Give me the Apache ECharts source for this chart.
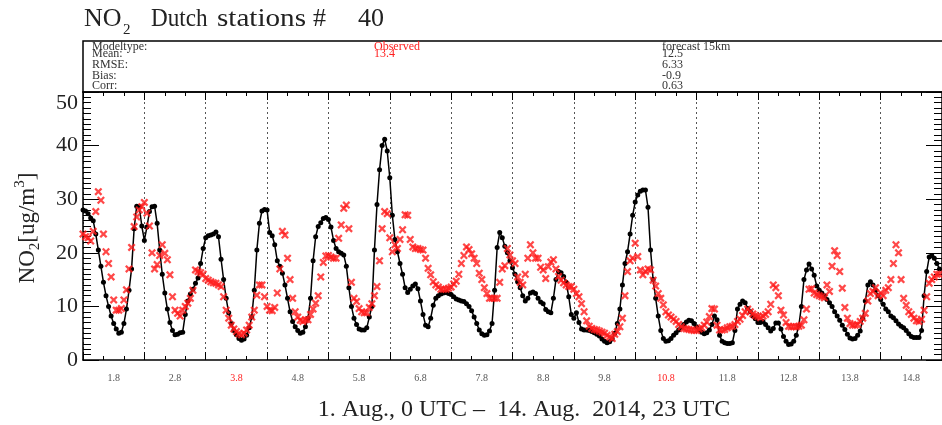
<!DOCTYPE html>
<html>
<head>
<meta charset="utf-8">
<script src="https://cdn.jsdelivr.net/npm/echarts@6/dist/echarts.min.js"></script>
<style>
  html, body { margin: 0; padding: 0; background: #fff; }
  #main { width: 942px; height: 425px; }
</style>
</head>
<body>
<div id="main"></div>
<script>
var SERIF = '"Liberation Serif", "Times New Roman", serif';

// day labels (Sundays in red)
var dayLabels = ["1.8", "2.8", "3.8", "4.8", "5.8", "6.8", "7.8", "8.8", "9.8", "10.8", "11.8", "12.8", "13.8", "14.8"];
var sundays = ["3.8", "10.8"];

// statistics box
var statNames = ["Modeltype:", "Mean:", "RMSE:", "Bias:", "Corr:"];
var observedStats = ["Observed", "13.4"];
var forecastStats = ["forecast 15km", "12.5", "6.33", "-0.9", "0.63"];

// hourly NO2 [ug/m3], 1. Aug 0 UTC .. 14. Aug 23 UTC
var forecast = [
  28.0, 27.8, 27.3, 26.5, 26.0, 23.5, 20.5, 17.5, 14.5, 12.0, 10.0, 8.2, 6.8, 5.8, 5.0, 5.2, 6.8, 9.5, 13.0, 17.0, 24.5, 28.7, 28.6, 25.0,
  22.3, 24.8, 27.7, 28.6, 28.7, 25.5, 20.5, 16.0, 12.5, 9.5, 7.0, 5.5, 4.7, 4.8, 5.1, 5.2, 8.5, 11.0, 12.3, 13.2, 14.3, 15.3, 18.0, 20.8,
  22.8, 23.2, 23.3, 23.5, 23.9, 23.0, 18.8, 15.0, 11.5, 8.8, 6.8, 5.5, 4.7, 4.0, 3.7, 3.9, 4.6, 6.0, 8.0, 13.0, 20.5, 25.5, 27.8, 28.1,
  28.0, 23.8, 23.2, 21.5, 18.5, 17.5, 16.2, 14.0, 11.5, 9.0, 7.2, 6.2, 5.5, 5.0, 5.2, 6.2, 7.8, 11.5, 18.5, 23.0, 24.9, 25.6, 26.4, 26.6,
  26.2, 24.8, 22.3, 20.8, 20.2, 19.9, 19.6, 17.5, 13.5, 10.0, 7.8, 6.6, 5.8, 5.6, 5.6, 6.0, 8.0, 10.0, 20.5, 29.0, 35.5, 40.0, 41.2, 39.0,
  34.0, 27.0, 22.5, 20.2, 18.0, 16.0, 13.5, 12.6, 13.2, 13.8, 14.2, 13.3, 11.0, 8.5, 6.5, 6.2, 7.8, 10.2, 11.5, 12.0, 12.3, 12.5, 12.6, 12.4,
  12.2, 11.8, 11.4, 11.2, 11.0, 10.9, 10.5, 10.0, 9.2, 8.0, 6.8, 5.6, 4.9, 4.6, 4.7, 5.4, 6.8, 13.0, 21.0, 23.8, 22.8, 21.2, 20.0, 18.5,
  17.2, 16.0, 14.6, 13.5, 12.0, 11.0, 11.5, 12.5, 12.7, 12.4, 11.5, 10.8, 10.5, 9.4, 9.0, 8.8, 11.5, 15.0, 16.5, 16.3, 15.6, 14.5, 11.8, 8.5,
  7.8, 8.8, 7.0, 5.8, 5.6, 5.6, 5.5, 5.3, 5.1, 4.8, 4.5, 3.9, 3.5, 3.2, 3.4, 3.9, 5.0, 6.8, 9.5, 14.0, 18.0, 20.2, 23.5, 27.0,
  29.5, 30.8, 31.5, 31.7, 31.7, 28.5, 20.5, 15.0, 11.5, 8.2, 5.5, 4.0, 3.5, 3.6, 4.0, 4.6, 5.1, 5.6, 6.1, 6.6, 7.1, 7.4, 7.3, 6.8,
  6.2, 5.6, 5.2, 4.9, 5.1, 5.6, 6.6, 8.2, 7.5, 4.6, 3.5, 3.2, 3.1, 3.1, 3.2, 5.5, 9.5, 10.4, 11.0, 10.7, 9.6, 9.0, 8.2, 7.7,
  7.0, 7.0, 7.2, 6.6, 6.0, 5.4, 5.9, 6.9, 6.9, 5.8, 4.4, 3.5, 2.9, 3.0, 3.5, 4.6, 6.4, 10.0, 15.0, 16.8, 17.9, 17.0, 15.8, 13.8,
  13.0, 12.5, 12.0, 11.3, 10.7, 10.0, 9.0, 8.2, 7.4, 6.5, 5.7, 4.8, 4.1, 3.9, 4.0, 4.6, 5.4, 7.8, 11.0, 14.0, 14.6, 14.0, 13.0, 12.0,
  11.3, 10.4, 9.5, 9.0, 8.2, 7.9, 7.3, 6.7, 6.3, 6.0, 5.5, 4.9, 4.4, 4.2, 4.2, 4.2, 5.5, 12.0, 16.5, 19.2, 19.5, 19.0, 18.0, 17.0
];

var observed = [
  23.5, 23.0, 22.8, 22.2, 24.0, 27.7, 31.4, 29.8, 23.5, 20.2, 18.0, 15.5, 11.2, 9.3, 9.3, 9.6, 11.2, 13.1, 17.0, 21.0, 24.9, 26.7, 28.0, 28.6,
  29.4, 27.4, 25.0, 20.0, 17.0, 17.8, 19.5, 21.5, 19.9, 18.7, 15.9, 11.8, 9.3, 8.7, 8.2, 9.3, 10.0, 10.6, 11.5, 13.0, 16.8, 16.5, 16.3, 16.0,
  15.2, 14.9, 14.6, 14.4, 14.3, 14.0, 13.7, 11.8, 9.3, 7.8, 6.5, 5.8, 5.3, 4.9, 4.7, 5.0, 5.6, 6.5, 8.0, 9.3, 12.1, 14.0, 14.0, 11.8,
  10.0, 9.3, 9.2, 9.8, 12.5, 17.0, 24.0, 23.3, 19.0, 15.0, 11.5, 9.0, 8.0, 7.4, 7.2, 7.5, 7.5, 8.5, 9.5, 10.6, 12.0, 15.5, 18.2, 19.4,
  19.5, 19.2, 19.0, 19.0, 22.7, 25.2, 28.3, 28.9, 24.5, 14.5, 11.5, 10.9, 9.6, 9.0, 8.8, 8.8, 9.8, 10.5, 12.0, 13.7, 18.5, 24.5, 27.7, 27.3,
  22.8, 20.2, 21.5, 20.8, 22.5, 24.3, 27.1, 27.0, 22.5, 21.1, 20.8, 20.8, 20.6, 20.5, 19.0, 17.1, 15.9, 14.6, 14.0, 13.6, 13.2, 13.2, 13.2, 13.4,
  13.6, 14.2, 14.7, 16.0, 18.0, 19.5, 21.1, 20.6, 19.8, 19.0, 18.0, 16.2, 15.0, 13.5, 12.4, 11.5, 11.5, 11.5, 11.5, 14.5, 17.0, 17.6, 20.8, 19.6,
  18.5, 18.0, 15.5, 14.5, 14.0, 16.0, 19.0, 21.5, 20.0, 19.0, 19.0, 17.3, 16.8, 15.2, 17.4, 18.3, 18.7, 17.0, 15.6, 14.9, 14.4, 14.0, 13.7, 13.7,
  13.2, 12.4, 11.8, 10.5, 9.0, 7.3, 6.3, 5.9, 5.7, 5.6, 5.4, 5.2, 5.0, 4.6, 4.3, 4.0, 4.8, 5.3, 6.2, 7.8, 12.0, 16.5, 18.5, 19.0,
  21.8, 19.3, 16.8, 15.9, 16.5, 17.0, 16.8, 14.9, 13.8, 12.4, 11.5, 10.3, 9.0, 8.4, 8.0, 7.6, 7.2, 6.6, 6.2, 5.9, 5.8, 5.7, 5.6, 5.5,
  5.5, 5.8, 6.0, 6.5, 7.1, 8.1, 9.6, 9.5, 6.5, 5.6, 5.6, 5.7, 6.0, 6.2, 6.3, 6.6, 7.2, 7.6, 8.3, 9.0, 9.5, 9.0, 8.6, 8.3,
  8.1, 7.9, 8.2, 8.5, 9.0, 10.4, 14.0, 13.5, 12.0, 9.3, 8.4, 7.0, 6.3, 6.2, 6.2, 6.2, 6.3, 6.5, 7.5, 9.5, 13.2, 13.3, 12.5, 12.2,
  12.0, 11.8, 11.6, 14.0, 12.8, 17.5, 20.4, 19.5, 16.5, 13.4, 9.8, 7.8, 6.8, 6.5, 6.5, 6.6, 7.2, 7.8, 8.7, 11.0, 12.4, 12.8, 13.5, 12.0,
  12.5, 12.0, 13.0, 13.5, 15.0, 18.0, 21.5, 20.0, 15.0, 11.5, 10.2, 9.0, 8.5, 7.8, 7.3, 7.2, 7.6, 9.3, 11.8, 14.3, 15.0, 15.5, 16.0, 16.0
];

var hoursTotal = dayLabels.length * 24;

var myChart = echarts.init(document.getElementById("main"));

var frameLine = { color: "#000", width: 1.5 };
var xCross = "path://M2,0L5,3L8,0L10,2L7,5L10,8L8,10L5,7L2,10L0,8L3,5L0,2Z";

function statText(x, y, txt, color) {
  return {
    type: "text", x: x, y: y,
    style: { text: txt, fontFamily: SERIF, fontSize: 12, fill: color, verticalAlign: "middle" }
  };
}

function titleWord(x, y, txt, size, sx) {
  return {
    type: "text", x: x, y: y, scaleX: sx || 1,
    style: { text: txt, fontFamily: SERIF, fontSize: size, fill: "#222", verticalAlign: "middle" }
  };
}

var graphics = [
  // stats box
  { type: "rect", shape: { x: 83, y: 41, width: 900, height: 51 },
    style: { fill: "none", stroke: "#000", lineWidth: 1.5 } },
  // title
  titleWord(84, 19, "NO", 26),
  titleWord(123, 30, "2", 15),
  titleWord(151, 19, "Dutch", 26, 0.89),
  titleWord(217, 19, "stations", 26, 1.12),
  titleWord(313, 19, "#", 26),
  titleWord(358, 19, "40", 26),
  // y axis name
  { type: "text", x: 28, y: 228, rotation: Math.PI / 2,
    style: {
      text: "{a|NO}{s|2}{a|[ug/m}{p|3}{a|]}",
      align: "center", verticalAlign: "middle", fill: "#222",
      rich: {
        a: { fontFamily: SERIF, fontSize: 23, lineHeight: 30, fill: "#222" },
        s: { fontFamily: SERIF, fontSize: 15, lineHeight: 14, verticalAlign: "bottom", fill: "#222" },
        p: { fontFamily: SERIF, fontSize: 15, lineHeight: 14, verticalAlign: "top", fill: "#222" }
      }
    } },
  // x axis title
  { type: "text", x: 524, y: 410,
    style: { text: "1. Aug., 0 UTC \u2013  14. Aug.  2014, 23 UTC", fontFamily: SERIF, fontSize: 24,
      fill: "#222", align: "center", verticalAlign: "middle" } }
];

var rowY = [47, 54, 65, 76, 86];
statNames.forEach(function (t, i) { graphics.push(statText(92, rowY[i], t, "#333")); });
observedStats.forEach(function (t, i) { graphics.push(statText(374, rowY[i], t, "#ff2020")); });
forecastStats.forEach(function (t, i) { graphics.push(statText(662, rowY[i], t, "#333")); });

function timeAxis(pos, split) {
  return {
    type: "value", position: pos, min: 0, max: hoursTotal, interval: 24,
    axisLine: { show: true, onZero: false, lineStyle: frameLine },
    axisTick: { show: true, inside: true, length: 8, lineStyle: { color: "#000", width: 1 } },
    minorTick: { show: true, splitNumber: 3, length: 4, lineStyle: { color: "#000", width: 1 } },
    axisLabel: { show: false },
    splitLine: { show: split, lineStyle: { color: "#555", width: 1, type: [2, 3] } }
  };
}

function valueAxis(pos, labels) {
  return {
    type: "value", position: pos, min: 0, max: 50, interval: 10,
    axisLine: { show: true, onZero: false, lineStyle: frameLine },
    axisTick: { show: true, inside: true, length: 16, lineStyle: { color: "#000", width: 1 } },
    minorTick: { show: true, splitNumber: 10, length: 8, lineStyle: { color: "#000", width: 1 } },
    axisLabel: { show: labels, fontFamily: SERIF, fontSize: 22, color: "#222", margin: 5,
      verticalAlignMaxLabel: "top" },
    splitLine: { show: false }
  };
}

myChart.setOption({
  animation: false,
  backgroundColor: "#fff",
  grid: { left: 83, right: -9, top: 92, bottom: 65 },
  xAxis: [
    timeAxis("bottom", true),
    timeAxis("top", false),
    {
      type: "category", position: "bottom", data: dayLabels, boundaryGap: true,
      axisLine: { show: false, onZero: false }, axisTick: { show: false },
      axisLabel: {
        fontFamily: SERIF, fontSize: 10, margin: 13,
        color: function (v) { return sundays.indexOf(v) >= 0 ? "#ff2020" : "#555"; }
      },
      splitLine: { show: false }
    }
  ],
  yAxis: [valueAxis("left", true), valueAxis("right", false)],
  graphic: graphics,
  series: [
    {
      name: "forecast", type: "line", xAxisIndex: 0, yAxisIndex: 0,
      data: forecast.map(function (v, i) { return [i, v]; }),
      showSymbol: true, symbol: "circle", symbolSize: 5,
      lineStyle: { color: "#000", width: 1.5 },
      itemStyle: { color: "#000" },
      z: 2
    },
    {
      name: "observed", type: "scatter", xAxisIndex: 0, yAxisIndex: 0,
      data: observed.map(function (v, i) { return [i, v]; }),
      symbol: xCross, symbolSize: 8,
      itemStyle: { color: "#ff1a1a" },
      z: 3
    }
  ]
});
</script>
</body>
</html>
